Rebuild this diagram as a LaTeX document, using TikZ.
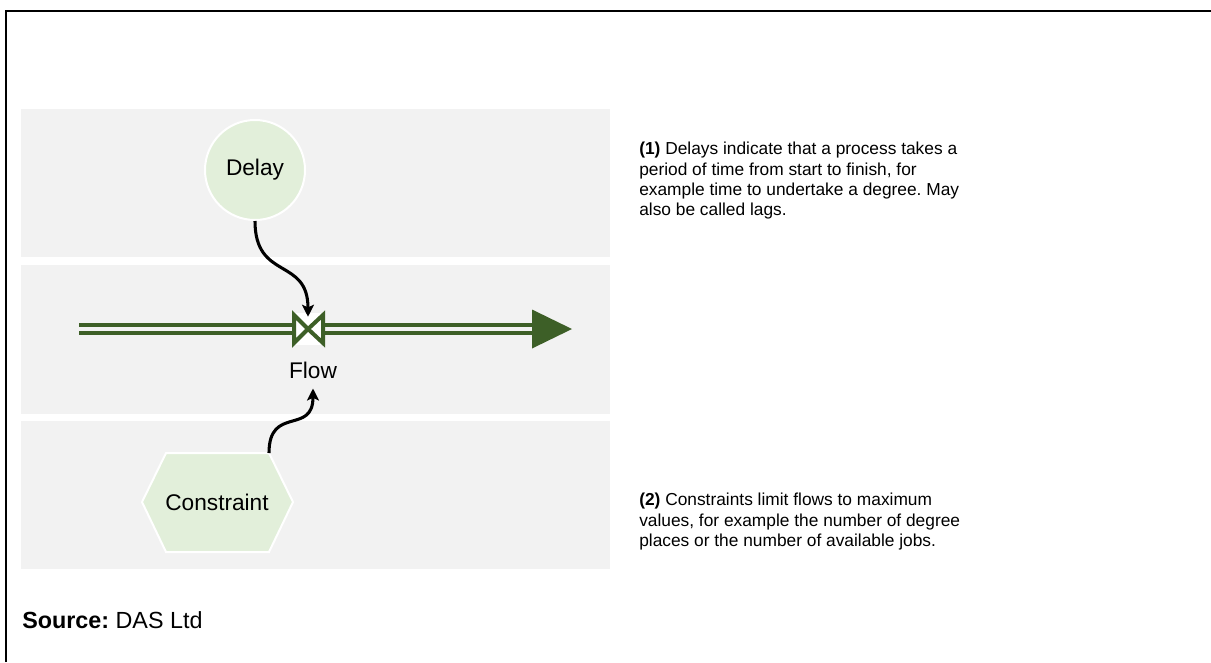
\documentclass[tikz,border=0pt]{standalone}
\usepackage{fontspec}
\setmainfont{Liberation Sans}
\usetikzlibrary{arrows.meta,calc}
\frenchspacing

\definecolor{panelgray}{HTML}{F2F2F2}
\definecolor{paleleaf}{HTML}{E2EFDA}
\definecolor{pipegreen}{HTML}{3D5F27}

\tikzset{
  panel/.style={fill=panelgray},
  labelfont/.style={font=\fontsize{17}{20}\selectfont},
  notefont/.style={font=\fontsize{13}{15.2}\selectfont, align=left, inner sep=0pt, anchor=north west},
  pipe/.style={draw=pipegreen, line width=2.6pt},
  valvetri/.style={draw=pipegreen, fill=white, line width=3pt, line join=miter},
  link/.style={draw=black, line width=2.3pt, -{Stealth[length=9pt,width=9pt,inset=2pt]}},
  delaybox/.style={circle, fill=paleleaf, draw=white, line width=1.5pt, minimum size=75pt, inner sep=0pt, labelfont},
}

\begin{document}
\begin{tikzpicture}[x=0.75pt, y=-0.75pt]
  \useasboundingbox (0,0) rectangle (1211,662);
  \fill[white] (0,0) rectangle (1211,662);

  % frame: top and left rules only
  \draw[line width=1.7pt] (6,662) -- (6,11.3) -- (1211,11.3);

  % three grey bands
  \fill[panel] (21,109) rectangle (610,257);
  \fill[panel] (21,265) rectangle (610,414);
  \fill[panel] (21,421) rectangle (610,569);

  % delay
  \node[delaybox] (delay) at (255,170) {Delay};

  % flow pipe with valve
  \coordinate (pipein) at (79,329);
  \coordinate (pipeend) at (532,329);
  \coordinate (pipetip) at (572,329);
  \node[fill=white, minimum width=24pt, minimum height=24pt, inner sep=0pt] (valve) at (308,329) {};

  \draw[pipe] ($(pipein)+(0,-4)$) -- ($(valve.west)+(0,-4)$);
  \draw[pipe] ($(pipein)+(0,4)$) -- ($(valve.west)+(0,4)$);
  \draw[pipe] ($(valve.east)+(0,-4)$) -- ($(pipeend)+(0,-4)$);
  \draw[pipe] ($(valve.east)+(0,4)$) -- ($(pipeend)+(0,4)$);
  \fill[pipegreen] ($(pipeend)+(0,-19.5)$) -- (pipetip) -- ($(pipeend)+(0,19.5)$) -- cycle;

  \draw[valvetri] (294,315) -- (valve.center) -- (294,343) -- cycle;
  \draw[valvetri] (323,315) -- (valve.center) -- (323,343) -- cycle;

  \node[labelfont, inner sep=0pt, anchor=base] (flowlbl) at (313,378) {Flow};

  % constraint hexagon
  \coordinate (hexTR) at (269,453);
  \filldraw[fill=paleleaf, draw=white, line width=1.5pt]
    (142,502) -- (166,453) -- (hexTR) -- (293,502) -- (269,552) -- (166,552) -- cycle;
  \node[labelfont, inner sep=0pt, anchor=base] (constraint) at (217,510) {Constraint};

  % influence links
  \draw[link] (delay.south) .. controls +(0,60) and +(0,-60) .. ($(valve.north)+(0,4)$);
  \draw[link] (hexTR) .. controls +(0,-48) and +(0,47) .. ($(flowlbl.south)+(0,10)$);

  % notes
  \node[notefont] (note1) at (639,142) {\textbf{(1)} Delays indicate that a process takes a\\
    period of time from start to finish, for\\
    example time to undertake a degree. May\\
    also be called lags.};
  \node[notefont] (note2) at (639,493) {\textbf{(2)} Constraints limit flows to maximum\\
    values, for example the number of degree\\
    places or the number of available jobs.};

  % source line
  \node[font=\fontsize{17.5}{20}\selectfont, inner sep=0pt, anchor=base west] (source) at (22,628) {\textbf{Source:} DAS Ltd};
\end{tikzpicture}
\end{document}
